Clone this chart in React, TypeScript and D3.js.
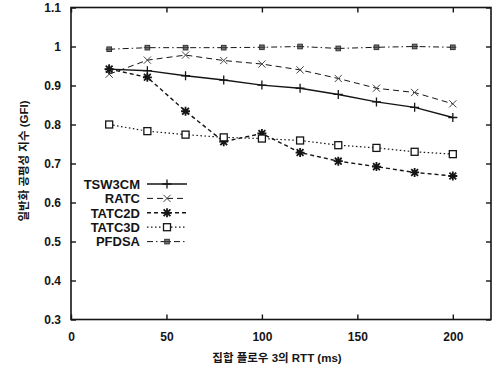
import React, { useRef, useEffect } from "react";
import * as d3 from "d3";

// RTT of aggregate flow 3 (ms)
const rtt = [20, 40, 60, 80, 100, 120, 140, 160, 180, 200];

const tsw3cm = [0.942, 0.938, 0.925, 0.914, 0.901, 0.893, 0.877, 0.858, 0.844, 0.818];
const ratc = [0.929, 0.965, 0.978, 0.964, 0.955, 0.94, 0.918, 0.893, 0.882, 0.853];
const tatc2d = [0.942, 0.921, 0.834, 0.756, 0.777, 0.728, 0.706, 0.692, 0.677, 0.668];
const tatc3d = [0.8, 0.783, 0.774, 0.767, 0.764, 0.759, 0.747, 0.74, 0.73, 0.724];
const pfdsa = [0.993, 0.997, 0.997, 0.997, 0.998, 1.0, 0.995, 0.998, 1.0, 0.998];

const seriesNames = ["TSW3CM", "RATC", "TATC2D", "TATC3D", "PFDSA"];
const xTicks = [0, 50, 100, 150, 200];
const yTicks = [0.3, 0.4, 0.5, 0.6, 0.7, 0.8, 0.9, 1.0, 1.1];

const App: React.FC = () => {
  const ref = useRef<SVGSVGElement | null>(null);

  useEffect(() => {
    if (!ref.current) return;
    document.body.style.margin = "0";
    const svg = d3.select(ref.current);
    svg.selectAll("*").remove();

    const width = 496;
    const height = 366;
    const m = { top: 7.5, right: 5, bottom: 46.5, left: 71 };
    const ink = "#151515";
    const font = "'Liberation Sans', Arial, 'Noto Sans CJK KR', sans-serif";

    const x = d3.scaleLinear().domain([0, 220]).range([m.left, width - m.right]);
    const y = d3.scaleLinear().domain([0.3, 1.1]).range([height - m.bottom, m.top]);

    svg.append("rect").attr("width", width).attr("height", height).attr("fill", "#fff");

    // frame
    svg
      .append("rect")
      .attr("x", x(0))
      .attr("y", y(1.1))
      .attr("width", x(220) - x(0))
      .attr("height", y(0.3) - y(1.1))
      .attr("fill", "none")
      .attr("stroke", ink)
      .attr("stroke-width", 1.6);

    const tickLen = 5;
    // left / right axes, ticks inward
    const yAxisL = svg
      .append("g")
      .attr("transform", `translate(${x(0)},0)`)
      .call(
        d3.axisLeft(y).tickValues(yTicks).tickSize(-tickLen).tickPadding(10)
          .tickFormat((d) => d3.format("~g")(d as number))
      );
    const yAxisR = svg
      .append("g")
      .attr("transform", `translate(${x(220)},0)`)
      .call(d3.axisRight(y).tickValues(yTicks).tickSize(-tickLen).tickFormat(() => ""));
    const xAxisB = svg
      .append("g")
      .attr("transform", `translate(0,${y(0.3)})`)
      .call(d3.axisBottom(x).tickValues(xTicks).tickSize(-tickLen).tickPadding(13));
    const xAxisT = svg
      .append("g")
      .attr("transform", `translate(0,${y(1.1)})`)
      .call(d3.axisTop(x).tickValues(xTicks).tickSize(-tickLen).tickFormat(() => ""));

    [yAxisL, yAxisR, xAxisB, xAxisT].forEach((g) => {
      g.select(".domain").remove();
      g.selectAll("line").attr("stroke", ink).attr("stroke-width", 1.4);
      g.selectAll("text")
        .attr("fill", ink)
        .style("font-family", font)
        .style("font-weight", "bold")
        .style("font-size", "12px");
    });

    // axis titles
    svg
      .append("text")
      .attr("x", 277)
      .attr("y", 362)
      .attr("text-anchor", "middle")
      .attr("fill", ink)
      .style("font-family", font)
      .style("font-weight", "bold")
      .style("font-size", "11.5px")
      .text("집합 플로우 3의 RTT (ms)");

    svg
      .append("text")
      .attr("transform", `translate(28,161) rotate(-90)`)
      .attr("text-anchor", "middle")
      .attr("fill", ink)
      .style("font-family", font)
      .style("font-weight", "bold")
      .style("font-size", "11.5px")
      .text("일반화 공평성 지수 (GFI)");

    const styles = [
      { data: tsw3cm, dash: "none", width: 1.4, marker: "plus" },
      { data: ratc, dash: "6,4", width: 1, marker: "cross" },
      { data: tatc2d, dash: "4,3", width: 1.4, marker: "star" },
      { data: tatc3d, dash: "1.5,2.5", width: 1.2, marker: "square" },
      { data: pfdsa, dash: "6,3,1.5,3", width: 1, marker: "dot" },
    ];

    const drawMarker = (g: d3.Selection<SVGGElement, unknown, null, undefined>, kind: string, cx: number, cy: number) => {
      const s = 4.5;
      if (kind === "plus") {
        g.append("path").attr("d", `M${cx - s},${cy}H${cx + s}M${cx},${cy - s}V${cy + s}`)
          .attr("stroke", ink).attr("stroke-width", 1.3);
      } else if (kind === "cross") {
        const c = 3.6;
        g.append("path").attr("d", `M${cx - c},${cy - c}L${cx + c},${cy + c}M${cx - c},${cy + c}L${cx + c},${cy - c}`)
          .attr("stroke", "#444").attr("stroke-width", 1);
      } else if (kind === "star") {
        const c = 3.4;
        g.append("path")
          .attr("d", `M${cx - s},${cy}H${cx + s}M${cx},${cy - s}V${cy + s}M${cx - c},${cy - c}L${cx + c},${cy + c}M${cx - c},${cy + c}L${cx + c},${cy - c}`)
          .attr("stroke", ink).attr("stroke-width", 1.8);
      } else if (kind === "square") {
        g.append("rect").attr("x", cx - 3.5).attr("y", cy - 3.5).attr("width", 7).attr("height", 7)
          .attr("fill", "#fff").attr("stroke", ink).attr("stroke-width", 1.3);
      } else {
        g.append("rect").attr("x", cx - 2.3).attr("y", cy - 2.3).attr("width", 4.6).attr("height", 4.6)
          .attr("fill", "#777").attr("stroke", "#333").attr("stroke-width", 1);
        g.append("path").attr("d", `M${cx - 3.5},${cy}H${cx + 3.5}`).attr("stroke", "#333").attr("stroke-width", 1);
      }
    };

    const line = d3
      .line<number>()
      .x((_, i) => x(rtt[i]))
      .y((d) => y(d));

    styles.forEach((st) => {
      const g = svg.append("g");
      g.append("path")
        .datum(st.data)
        .attr("d", line)
        .attr("fill", "none")
        .attr("stroke", ink)
        .attr("stroke-width", st.width)
        .attr("stroke-dasharray", st.dash);
      st.data.forEach((v, i) => drawMarker(g, st.marker, x(rtt[i]), y(v)));
    });

    // legend
    const legend = svg.append("g");
    seriesNames.forEach((name, i) => {
      const ly = 184 + i * 14.4;
      const st = styles[i];
      legend
        .append("text")
        .attr("x", 140)
        .attr("y", ly + 4.8)
        .attr("text-anchor", "end")
        .attr("fill", ink)
        .style("font-family", font)
        .style("font-weight", "bold")
        .style("font-size", "13px")
        .text(name);
      legend
        .append("path")
        .attr("d", `M147,${ly}H187`)
        .attr("stroke", ink)
        .attr("stroke-width", st.width)
        .attr("stroke-dasharray", st.dash);
      drawMarker(legend as any, st.marker, 167, ly);
    });
  }, []);

  return <svg ref={ref} width={496} height={366} style={{ display: "block" }} />;
};

export default App;
